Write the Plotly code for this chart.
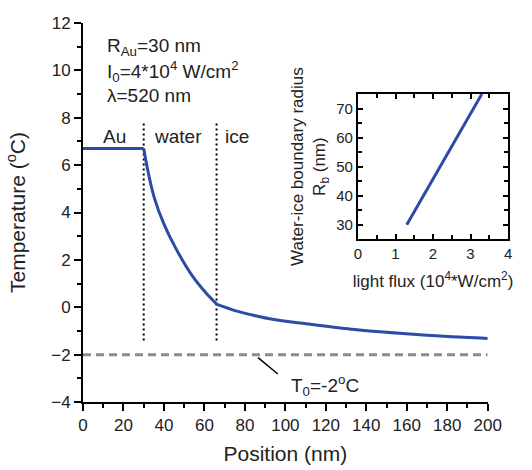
import plotly.graph_objects as go

# Main curve: temperature profile vs position
position = [0, 30, 32.1, 35.2, 40.0, 46.4, 54.3, 60.8, 66.2, 75.1, 84.7, 94.3, 108.6, 132.5, 156.5, 180.4, 200]
temperature = [6.7, 6.7, 5.74, 4.63, 3.51, 2.40, 1.29, 0.60, 0.12, -0.14, -0.35, -0.52, -0.68, -0.93, -1.1, -1.24, -1.32]

# Ambient temperature line
t0_x = [0, 200]
t0_y = [-2, -2]

# Region boundaries (dotted lines)
boundaries = [30, 66]
boundary_y = [-1.4, 7.8]

# Inset: boundary radius vs light flux
flux = [1.3, 3.3]
rb = [30, 75]

FONT = "Arial, Liberation Sans, sans-serif"
BLUE = "#2B4BA6"

fig = go.Figure()

fig.add_trace(go.Scatter(x=t0_x, y=t0_y, mode="lines",
                         line=dict(color="#8C8C8C", width=3, dash="8px,5px"),
                         showlegend=False, hoverinfo="skip"))
for b in boundaries:
    fig.add_trace(go.Scatter(x=[b, b], y=boundary_y, mode="lines",
                             line=dict(color="black", width=2, dash="2px,3px"),
                             showlegend=False, hoverinfo="skip"))

# draw the curve as segments split at the region boundaries (smooth inside each region)
i_w = position.index(30)
i_i = 8  # first point at the water/ice boundary
segments = [(0, i_w + 1, "linear"), (i_w, i_i + 1, "spline"), (i_i, len(position), "spline")]
for s, e, shape in segments:
    fig.add_trace(go.Scatter(x=position[s:e], y=temperature[s:e], mode="lines",
                             line=dict(color=BLUE, width=3, shape=shape, smoothing=0.8),
                             showlegend=False))
fig.add_trace(go.Scatter(x=flux, y=rb, mode="lines", xaxis="x2", yaxis="y2",
                         line=dict(color=BLUE, width=3),
                         showlegend=False))

W, H = 532, 470
ml, mr, mt, mb = 83, 8, 23, 63
pw = W - ml - mr

axis_common = dict(showgrid=False, zeroline=False, showline=True, linecolor="black",
                   linewidth=2, tickcolor="black", tickwidth=2,
                   tickfont=dict(family=FONT, size=17, color="#222"))

fig.update_layout(
    width=W, height=H,
    margin=dict(l=ml, r=mr, t=mt, b=mb),
    paper_bgcolor="white", plot_bgcolor="white",
    font=dict(family=FONT, color="#222"),
    xaxis=dict(domain=[0, 418 / pw], range=[0, 200], tick0=0, dtick=20,
               ticks="outside", ticklen=7,
               minor=dict(dtick=10, ticks="outside", ticklen=4, tickwidth=2, tickcolor="black"),
               title=dict(text="Position (nm)", font=dict(family=FONT, size=21), standoff=12),
               **axis_common),
    yaxis=dict(domain=[0, 1], range=[-4, 12], tick0=-4, dtick=2,
               ticks="outside", ticklen=7,
               minor=dict(dtick=1, ticks="outside", ticklen=4, tickwidth=2, tickcolor="black"),
               title=dict(text="Temperature (<sup>o</sup>C)", font=dict(family=FONT, size=21), standoff=20),
               **axis_common),
    xaxis2=dict(domain=[(367 - ml) / pw, (522 - ml) / pw], range=[0, 4], anchor="y2",
                dtick=1, ticks="inside", ticklen=5, mirror="allticks",
                minor=dict(dtick=0.5, ticks="inside", ticklen=4, tickwidth=2, tickcolor="black"),
                title=dict(text="light flux (10<sup>4</sup>*W/cm<sup>2</sup>)",
                           font=dict(family=FONT, size=17), standoff=14),
                showgrid=False, zeroline=False, showline=True, linecolor="black",
                linewidth=2, tickcolor="black", tickwidth=2,
                tickfont=dict(family=FONT, size=15, color="#222")),
    yaxis2=dict(domain=[(407 - 242) / 384, (407 - 95) / 384], range=[25, 75], anchor="x2",
                tick0=30, dtick=10, ticks="inside", ticklen=5, mirror="allticks",
                minor=dict(dtick=5, ticks="inside", ticklen=4, tickwidth=2, tickcolor="black"),
                title=dict(text="Water-ice boundary radius<br>R<sub>b</sub> (nm)",
                           font=dict(family=FONT, size=17), standoff=6),
                showgrid=False, zeroline=False, showline=True, linecolor="black",
                linewidth=2, tickcolor="black", tickwidth=2,
                tickfont=dict(family=FONT, size=15, color="#222")),
)

ann_font = dict(family=FONT, size=19, color="#222")
annotations = [
    dict(x=11, y=11.0, text="R<sub>Au</sub>=30 nm", xanchor="left"),
    dict(x=11, y=9.97, text="I<sub>0</sub>=4*10<sup>4</sup> W/cm<sup>2</sup>", xanchor="left"),
    dict(x=11, y=8.93, text="λ=520 nm", xanchor="left"),
    dict(x=15.8, y=7.2, text="Au", xanchor="center"),
    dict(x=46.7, y=7.2, text="water", xanchor="center"),
    dict(x=75.9, y=7.2, text="ice", xanchor="center"),
    dict(x=119.4, y=-3.3, text="T<sub>0</sub>=-2<sup>o</sup>C", xanchor="center"),
]
for a in annotations:
    fig.add_annotation(xref="x", yref="y", showarrow=False, yanchor="middle",
                       font=ann_font, **a)

fig.add_annotation(xref="x", yref="y", x=86.5, y=-2.13, ax=97, ay=-2.87,
                   axref="x", ayref="y", text="", showarrow=True, arrowhead=0,
                   arrowwidth=1.5, arrowcolor="black")

fig.write_html("out.html")
